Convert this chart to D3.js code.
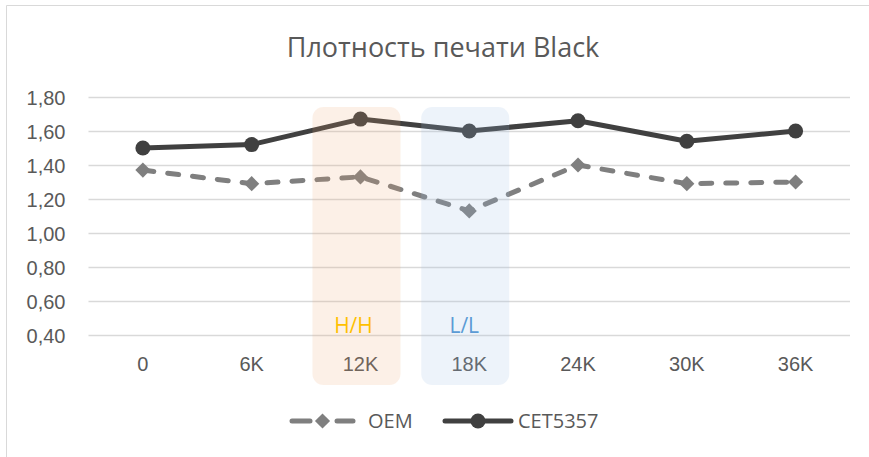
<!DOCTYPE html>
<html>
<head>
<meta charset="utf-8">
<script src="https://cdn.jsdelivr.net/npm/d3@7"></script>
<style>
  body { margin: 0; background: #fff; }
  svg { display: block; font-family: "Open Sans", "Noto Sans", sans-serif; }
</style>
</head>
<body>
<svg id="chart" width="869" height="457"></svg>
<script>
// chart data
const categories = ['0', '6K', '12K', '18K', '24K', '30K', '36K'];
const oemValues = [1.37, 1.29, 1.33, 1.13, 1.40, 1.29, 1.30];
const cetValues = [1.50, 1.52, 1.67, 1.60, 1.66, 1.54, 1.60];
const yTicks = [0.4, 0.6, 0.8, 1.0, 1.2, 1.4, 1.6, 1.8];
const highlights = [
  { cat: '12K', label: 'H/H', fill: '#eca06c', opacity: 0.16, text: '#ffc000', dx: -7 },
  { cat: '18K', label: 'L/L', fill: '#9bbae4', opacity: 0.18, text: '#5b9bd5', dx: -5 }
];
const seriesList = [
  { name: 'OEM', values: oemValues, color: '#7f7f7f', dash: '11,14', marker: 'diamond' },
  { name: 'CET5357', values: cetValues, color: '#404040', dash: null, marker: 'circle' }
];

const svg = d3.select('svg#chart');
const W = 869, H = 457;

// marker path, diamond = square turned 45deg
function marker(kind) {
  return kind === 'diamond'
    ? { d: d3.symbol(d3.symbolSquare, 115)(), rot: 45 }
    : { d: d3.symbol(d3.symbolCircle, 177)(), rot: 0 };
}

// chart frame
svg.append('path')
  .attr('d', `M6.5,${H} V5.5 H${W}`)
  .attr('fill', 'none')
  .attr('stroke', '#d9d9d9')
  .attr('stroke-width', 1);

const plot = { left: 88.5, right: 850, top: 97, bottom: 335 };

const x = d3.scaleBand()
  .domain(categories)
  .range([plot.left, plot.right]);

const y = d3.scaleLinear()
  .domain([0.4, 1.8])
  .range([plot.bottom, plot.top]);

// title
svg.append('text')
  .attr('x', 443)
  .attr('y', 57)
  .attr('text-anchor', 'middle')
  .attr('font-size', 27)
  .attr('fill', '#595959')
  .text('Плотность печати Black');

// grid lines
svg.append('g')
  .selectAll('line')
  .data(yTicks)
  .join('line')
  .attr('x1', plot.left)
  .attr('x2', plot.right)
  .attr('y1', d => Math.round(y(d)) + 0.5)
  .attr('y2', d => Math.round(y(d)) + 0.5)
  .attr('stroke', '#d9d9d9')
  .attr('stroke-width', 1.5);

// y axis labels
const yAxis = svg.append('g')
  .attr('transform', `translate(${plot.left - 23},1)`)
  .call(d3.axisLeft(y).tickValues(yTicks).tickSize(0).tickPadding(0)
    .tickFormat(d => d3.format('.2f')(d).replace('.', ',')));
yAxis.select('.domain').remove();
yAxis.selectAll('text')
  .attr('font-size', 20)
  .attr('fill', '#595959')
  .attr('font-family', null);

// x axis labels
const xAxis = svg.append('g')
  .attr('transform', `translate(0,${plot.bottom + 22})`)
  .call(d3.axisBottom(x).tickSize(0).tickPadding(0));
xAxis.select('.domain').remove();
xAxis.selectAll('text')
  .attr('font-size', 20)
  .attr('fill', '#595959')
  .attr('font-family', null);

// series lines and markers
seriesList.forEach(s => {
  const pts = s.values.map((v, i) => [x(categories[i]) + x.bandwidth() / 2, y(v)]);
  svg.append('path')
    .datum(pts)
    .attr('d', d3.line())
    .attr('fill', 'none')
    .attr('stroke', s.color)
    .attr('stroke-width', 5)
    .attr('stroke-linecap', 'round')
    .attr('stroke-linejoin', 'round')
    .attr('stroke-dasharray', s.dash);
  const m = marker(s.marker);
  svg.append('g')
    .selectAll('path')
    .data(pts)
    .join('path')
    .attr('transform', d => `translate(${d[0]},${d[1]}) rotate(${m.rot})`)
    .attr('d', m.d)
    .attr('fill', s.color);
});

// highlight boxes drawn over the lines
highlights.forEach(h => {
  const cx = x(h.cat) + x.bandwidth() / 2;
  svg.append('rect')
    .attr('x', cx - 48)
    .attr('y', 107)
    .attr('width', 88)
    .attr('height', 278)
    .attr('rx', 11)
    .attr('fill', h.fill)
    .attr('fill-opacity', h.opacity);
  svg.append('text')
    .attr('x', cx + h.dx)
    .attr('y', 333)
    .attr('text-anchor', 'middle')
    .attr('font-size', 21)
    .attr('fill', h.text)
    .text(h.label);
});

// legend
const legend = svg.append('g').attr('transform', 'translate(0,421)');
const legendItems = [
  { s: seriesList[0], x0: 292, x1: 353, tx: 368 },
  { s: seriesList[1], x0: 445, x1: 511, tx: 518 }
];
legendItems.forEach(li => {
  const mid = (li.x0 + li.x1) / 2;
  const segs = li.s.dash
    ? [[li.x0, li.x0 + 18], [li.x1 - 16, li.x1]]
    : [[li.x0, li.x1]];
  legend.selectAll(null)
    .data(segs)
    .join('line')
    .attr('x1', d => d[0]).attr('x2', d => d[1])
    .attr('y1', 0).attr('y2', 0)
    .attr('stroke', li.s.color)
    .attr('stroke-width', 5)
    .attr('stroke-linecap', 'round');
  const m = marker(li.s.marker);
  legend.append('path')
    .attr('transform', `translate(${mid},0) rotate(${m.rot})`)
    .attr('d', m.d)
    .attr('fill', li.s.color);
  legend.append('text')
    .attr('x', li.tx)
    .attr('y', 7)
    .attr('font-size', 20)
    .attr('fill', '#595959')
    .text(li.s.name);
});
</script>
</body>
</html>
